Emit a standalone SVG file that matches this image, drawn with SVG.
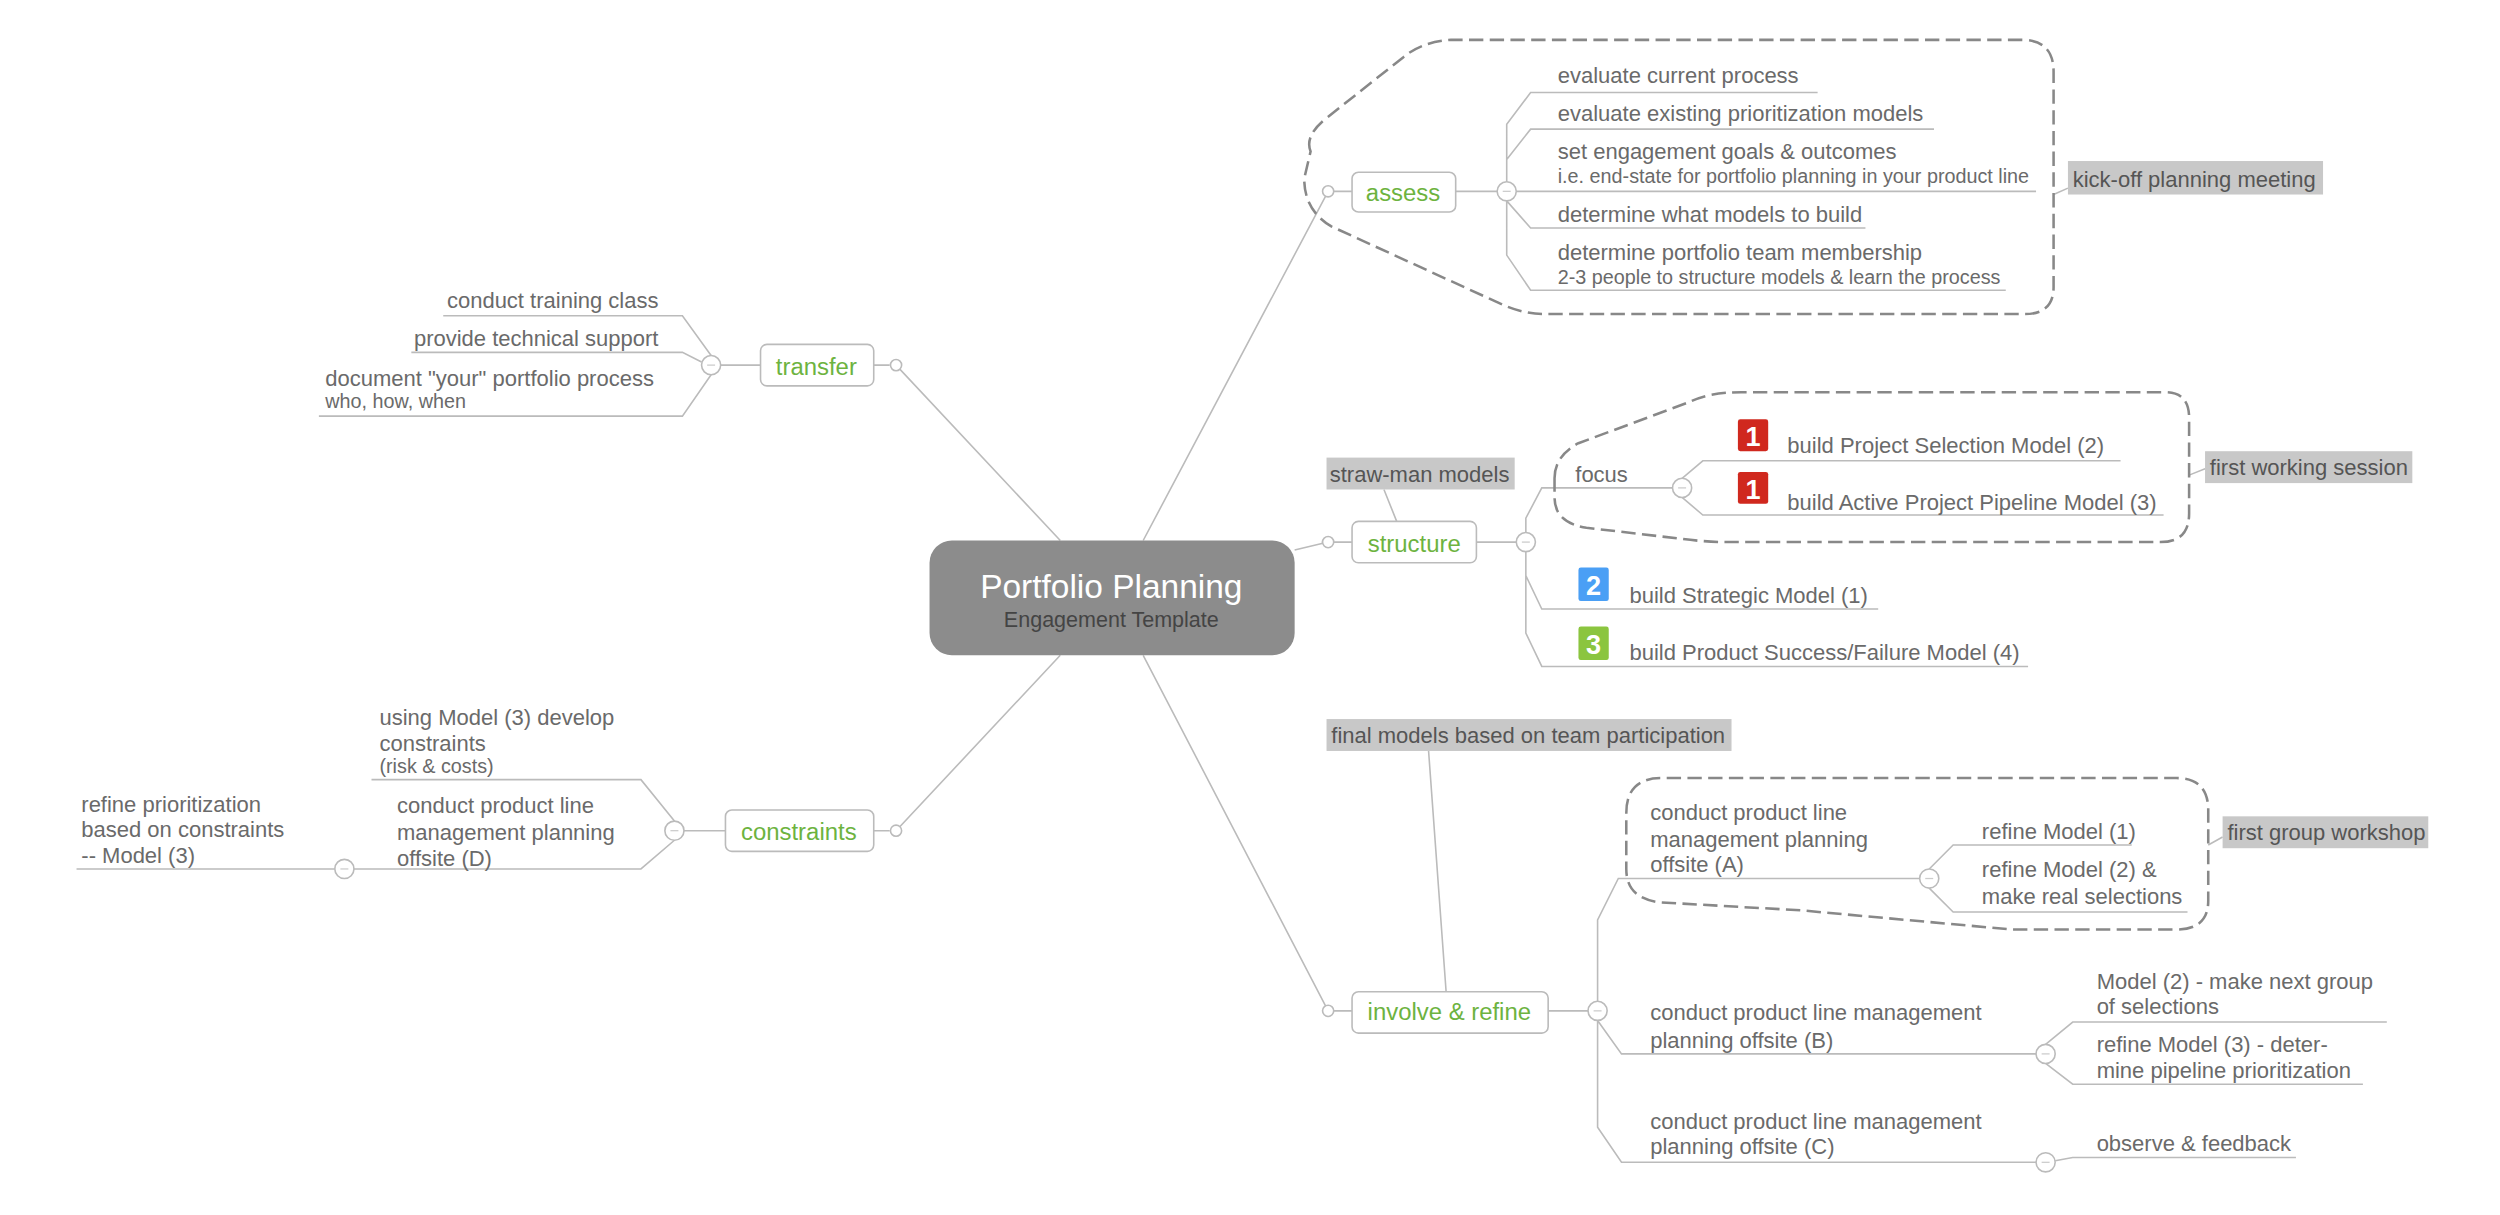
<svg xmlns="http://www.w3.org/2000/svg" width="2500" height="1215" viewBox="0 0 2500 1215">
<style>
.t{font-family:"Liberation Sans",Arial,sans-serif;font-size:13.8px;fill:#6a6a6a}
.s{font-family:"Liberation Sans",Arial,sans-serif;font-size:12.4px;fill:#6a6a6a}
.topic{font-family:"Liberation Sans",Arial,sans-serif;font-size:15px;fill:#6db33f;text-anchor:middle}
.box{fill:#fff;stroke:#bbb;stroke-width:1}
.ln{fill:none;stroke:#bbb;stroke-width:1}
.cc{fill:#fff;stroke:#bbb;stroke-width:1}
.dash{fill:none;stroke:#888;stroke-width:1.6;stroke-dasharray:9 4}
.lab{fill:#c8c8c8}
.labt{font-family:"Liberation Sans",Arial,sans-serif;font-size:13.8px;fill:#555}
.ic{font-family:"Liberation Sans",Arial,sans-serif;font-size:17px;font-weight:bold;fill:#fff;text-anchor:middle}
</style>
<defs>
<g id="col"><circle class="cc" r="6"/><path d="M-2.5,0 H2.5" stroke="#ccc" stroke-width="0.8"/></g>
</defs>
<rect width="2500" height="1215" fill="#fff"/>
<g transform="scale(1.5944)">
<g id="connectors">
<path class="ln" d="M665,339 L562,229 M717,339 L833,120 M812,345 L833,340 M665,411 L562,521 M717,411 L833,634"/>
<path class="ln" d="M836,120 H848 M913,120 H939 M945,114 V78 L960,58 H1140 M945,100 L960,81 H1213 M951,120 H1277 M945,126 L960,143 H1170 M945,126 V160 L960,182 H1258"/>
<path class="ln" d="M1288,122 L1297,118"/>
<path class="ln" d="M548,229 H558 M452,229 H477 M446,223 L428,198 H278 M440,227 L428,221 H258 M446,235 L428,261 H200"/>
<path class="ln" d="M548,521 H558 M429,521 H455 M423,515 L402,489 H233 M423,527 L402,545 H222 M210,545 H48"/>
<path class="ln" d="M829,340 H848 M926,340 H951 M868,307 L876,327 M957,334 V325 L967,306 H1049 M1055,300 L1068,289 H1330 M1055,312 L1068,323 H1357 M1373,298 L1383,294 M957,346 V361 L967,382 H1178 M957,346 V397 L967,418 H1272"/>
<path class="ln" d="M836,634 H848 M971,634 H996 M896,471 L907,622 M1002,628 V577 L1015,551 H1204 M1210,545 L1225,530 H1337 M1210,557 L1225,572 H1372 M1385,530 L1394,525 M1002,640 L1017,661 H1277 M1283,655 L1300,641 H1497 M1283,667 L1300,680 H1482 M1002,640 V707 L1017,729 H1277 M1289,728 L1300,726 H1440"/>
</g>
<path class="dash" d="M822,95 Q818,85 832,74 L880,36 Q892,26 910,25 L1268,25 Q1288,25 1288,45 L1288,180 Q1288,197 1270,197 L968,197 Q955,197 940,190 L835,142 Q818,132 818,112 Z"/>
<path class="dash" d="M975,300 Q975,286 990,278 L1060,252 Q1072,246 1092,246 L1358,246 Q1373,246 1373,262 L1373,322 Q1373,340 1355,340 L1085,340 Q1070,340 1055,338 L995,331 Q975,328 975,312 Z"/>
<path class="dash" d="M1020,510 Q1020,488 1042,488 L1365,488 Q1385,488 1385,508 L1385,565 Q1385,583 1365,583 L1262,583 L1130,571 L1042,566 Q1020,564 1020,545 Z"/>
<g id="center">
<rect x="583" y="339" width="229" height="72" rx="14" fill="#8c8c8c"/>
<text x="697" y="375" font-family="Liberation Sans,Arial,sans-serif" font-size="21" fill="#fff" text-anchor="middle">Portfolio Planning</text>
<text x="697" y="393" font-family="Liberation Sans,Arial,sans-serif" font-size="13.5" fill="#444" text-anchor="middle">Engagement Template</text>
</g>
<g id="assess">
<circle class="cc" cx="833" cy="120" r="3.5"/>
<rect class="box" x="848" y="108" width="65" height="25" rx="4"/>
<text class="topic" x="880" y="126">assess</text>
<use href="#col" x="945" y="120"/>
<text class="t" x="977" y="52">evaluate current process</text>
<text class="t" x="977" y="76">evaluate existing prioritization models</text>
<text class="t" x="977" y="100">set engagement goals &amp; outcomes</text>
<text class="s" x="977" y="115">i.e. end-state for portfolio planning in your product line</text>
<text class="t" x="977" y="139">determine what models to build</text>
<text class="t" x="977" y="163">determine portfolio team membership</text>
<text class="s" x="977" y="178">2-3 people to structure models &amp; learn the process</text>
</g>
<g id="kickoff"><rect class="lab" x="1297" y="101" width="160" height="21"/><text class="labt" x="1300" y="117">kick-off planning meeting</text></g>
<g id="transfer">
<circle class="cc" cx="562" cy="229" r="3.5"/>
<rect class="box" x="477" y="216" width="71" height="26" rx="4"/>
<text class="topic" x="512" y="235">transfer</text>
<use href="#col" x="446" y="229"/>
<text class="t" x="413" y="193" text-anchor="end">conduct training class</text>
<text class="t" x="413" y="217" text-anchor="end">provide technical support</text>
<text class="t" x="204" y="242">document "your" portfolio process</text>
<text class="s" x="204" y="256">who, how, when</text>
</g>
<g id="constraints">
<circle class="cc" cx="562" cy="521" r="3.5"/>
<rect class="box" x="455" y="508" width="93" height="26" rx="4"/>
<text class="topic" x="501" y="527">constraints</text>
<use href="#col" x="423" y="521"/>
<text class="t" x="238" y="455">using Model (3) develop</text>
<text class="t" x="238" y="471">constraints</text>
<text class="s" x="238" y="485">(risk &amp; costs)</text>
<text class="t" x="249" y="510">conduct product line</text>
<text class="t" x="249" y="527">management planning</text>
<text class="t" x="249" y="543">offsite (D)</text>
<use href="#col" x="216" y="545"/>
<text class="t" x="51" y="509">refine prioritization</text>
<text class="t" x="51" y="525">based on constraints</text>
<text class="t" x="51" y="541">-- Model (3)</text>
</g>
<g id="structure">
<circle class="cc" cx="833" cy="340" r="3.5"/>
<rect class="box" x="848" y="327" width="78" height="26" rx="4"/>
<text class="topic" x="887" y="346">structure</text>
<use href="#col" x="957" y="340"/>
<text class="t" x="988" y="302">focus</text>
<use href="#col" x="1055" y="306"/>
<rect x="1090" y="263" width="19" height="20" rx="1.5" fill="#d0281e"/><text class="ic" x="1099.5" y="280">1</text>
<text class="t" x="1121" y="284">build Project Selection Model (2)</text>
<rect x="1090" y="296" width="19" height="20" rx="1.5" fill="#d0281e"/><text class="ic" x="1099.5" y="313">1</text>
<text class="t" x="1121" y="320">build Active Project Pipeline Model (3)</text>
<rect x="990" y="356" width="19" height="21" rx="1.5" fill="#4a9ff5"/><text class="ic" x="999.5" y="373">2</text>
<text class="t" x="1022" y="378">build Strategic Model (1)</text>
<rect x="990" y="393" width="19" height="21" rx="1.5" fill="#8bc53f"/><text class="ic" x="999.5" y="410">3</text>
<text class="t" x="1022" y="414">build Product Success/Failure Model (4)</text>
</g>
<g id="strawman"><rect class="lab" x="832" y="287" width="118" height="20"/><text class="labt" x="834" y="302">straw-man models</text></g>
<g id="firstworking"><rect class="lab" x="1383" y="283" width="130" height="20"/><text class="labt" x="1386" y="298">first working session</text></g>
<g id="involve">
<circle class="cc" cx="833" cy="634" r="3.5"/>
<rect class="box" x="848" y="622" width="123" height="26" rx="4"/>
<text class="topic" x="909" y="640">involve &amp; refine</text>
<use href="#col" x="1002" y="634"/>
<text class="t" x="1035" y="514">conduct product line</text>
<text class="t" x="1035" y="531">management planning</text>
<text class="t" x="1035" y="547">offsite (A)</text>
<use href="#col" x="1210" y="551"/>
<text class="t" x="1243" y="526">refine Model (1)</text>
<text class="t" x="1243" y="550">refine Model (2) &amp;</text>
<text class="t" x="1243" y="567">make real selections</text>
<text class="t" x="1035" y="640">conduct product line management</text>
<text class="t" x="1035" y="657">planning offsite (B)</text>
<use href="#col" x="1283" y="661"/>
<text class="t" x="1315" y="620">Model (2) - make next group</text>
<text class="t" x="1315" y="636">of selections</text>
<text class="t" x="1315" y="660">refine Model (3) - deter-</text>
<text class="t" x="1315" y="676">mine pipeline prioritization</text>
<text class="t" x="1035" y="708">conduct product line management</text>
<text class="t" x="1035" y="724">planning offsite (C)</text>
<use href="#col" x="1283" y="729"/>
<text class="t" x="1315" y="722">observe &amp; feedback</text>
</g>
<g id="finalmodels"><rect class="lab" x="832" y="451" width="254" height="20"/><text class="labt" x="835" y="466">final models based on team participation</text></g>
<g id="firstgroup"><rect class="lab" x="1394" y="512" width="129" height="20"/><text class="labt" x="1397" y="527">first group workshop</text></g>
</g>
</svg>
